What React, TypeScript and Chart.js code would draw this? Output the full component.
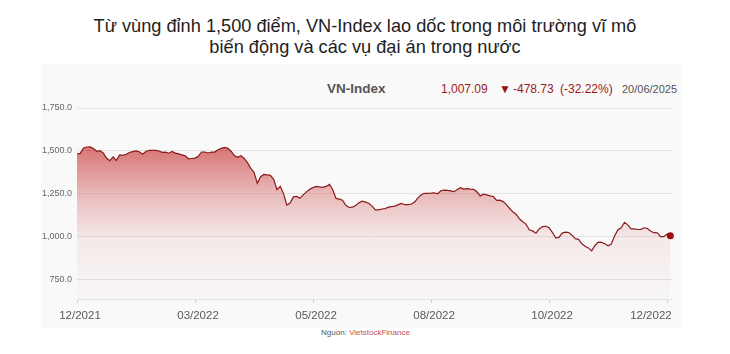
import React, { useEffect, useRef } from "react";
import { Chart, registerables } from "chart.js";

Chart.register(...registerables);

const titleLines = [
  "Từ vùng đỉnh 1,500 điểm, VN-Index lao dốc trong môi trường vĩ mô",
  "biến động và các vụ đại án trong nước",
];

const monthLabels = ["12/2021", "03/2022", "05/2022", "08/2022", "10/2022", "12/2022"];
const sessionsPerLabel = 36;

const yTicks = [750, 1000, 1250, 1500, 1750];

// VN-Index closes (approximate), Dec 2021 → Dec 2022
const vnIndex = [
  1482.6, 1486.0, 1517.4, 1523.3, 1523.8, 1514.5, 1498.3, 1501.7, 1489.0, 1459.3,
  1444.2, 1465.7, 1444.8, 1476.7, 1474.4, 1481.4, 1491.3, 1496.5, 1500.6, 1495.9,
  1480.8, 1497.1, 1504.1, 1503.5, 1504.1, 1500.0, 1491.9, 1493.0, 1487.2, 1497.7,
  1487.8, 1483.1, 1477.3, 1471.5, 1454.6, 1456.4, 1458.7, 1468.6, 1494.2, 1494.2,
  1488.4, 1494.2, 1493.6, 1507.6, 1515.1, 1520.9, 1515.1, 1498.8, 1473.8, 1463.4,
  1472.7, 1456.4, 1432.0, 1399.4, 1376.7, 1312.2, 1350.6, 1363.4, 1361.0, 1358.1,
  1334.9, 1275.6, 1294.8, 1252.3, 1186.0, 1197.1, 1233.1, 1236.0, 1225.0, 1244.8,
  1262.2, 1277.3, 1287.2, 1294.2, 1291.3, 1288.9, 1294.2, 1305.8, 1276.2, 1224.4,
  1219.8, 1213.9, 1184.3, 1171.5, 1173.3, 1183.1, 1199.4, 1208.7, 1202.9, 1196.5,
  1179.6, 1158.1, 1158.1, 1162.8, 1165.1, 1173.8, 1176.7, 1179.6, 1188.4, 1194.8,
  1187.8, 1187.8, 1191.9, 1203.5, 1227.9, 1245.3, 1254.1, 1254.1, 1255.2, 1257.0,
  1251.2, 1269.2, 1272.1, 1271.5, 1268.6, 1263.4, 1276.7, 1286.6, 1278.5, 1280.8,
  1277.9, 1277.3, 1262.8, 1238.9, 1248.8, 1244.8, 1239.5, 1235.5, 1213.4, 1214.5,
  1205.8, 1188.4, 1165.7, 1144.8, 1131.4, 1104.6, 1088.4, 1073.3, 1040.1, 1035.5,
  1022.1, 1046.5, 1060.5, 1062.2, 1053.5, 1027.3, 995.3, 997.7, 1022.7, 1028.5,
  1026.2, 1010.5, 990.1, 986.6, 960.5, 945.9, 936.6, 919.2, 950.6, 969.8,
  968.6, 960.5, 948.8, 959.3, 1006.4, 1041.9, 1054.0, 1085.5, 1070.3, 1047.1,
  1047.7, 1043.6, 1044.2, 1053.5, 1049.4, 1033.7, 1025.0, 1023.8, 1001.7, 1002.3,
  1017.4, 1007.09,
];

const headerName = "VN-Index";
const headerValue = "1,007.09";
const headerChange = "-478.73";
const headerPct = "(-32.22%)";
const headerDate = "20/06/2025";

const FONT = "'Liberation Sans', Arial, Helvetica, sans-serif";

export default function App() {
  const ref = useRef<HTMLCanvasElement | null>(null);

  useEffect(() => {
    if (!ref.current) return;
    const lastIdx = vnIndex.length - 1;
    const lastLabel = monthLabels.length - 1;
    const chart = new Chart(ref.current, {
      type: "line",
      data: {
        datasets: [
          {
            data: vnIndex.map((v, i) => ({ x: i, y: v })),
            borderColor: "#8a1a1a",
            borderWidth: 1.2,
            tension: 0,
            fill: "start",
            clip: 8,
            backgroundColor: (ctx: any) => {
              const ca = ctx.chart.chartArea;
              if (!ca) return "rgba(195,35,35,0.4)";
              const g = ctx.chart.ctx.createLinearGradient(0, ca.top, 0, ca.bottom);
              g.addColorStop(0, "rgba(195,35,35,0.66)");
              g.addColorStop(0.22, "rgba(195,35,35,0.6)");
              g.addColorStop(0.455, "rgba(195,35,35,0.29)");
              g.addColorStop(0.675, "rgba(195,35,35,0.08)");
              g.addColorStop(1, "rgba(195,35,35,0.01)");
              return g;
            },
            pointRadius: (ctx: any) => (ctx.dataIndex === lastIdx ? 3.5 : 0),
            pointBackgroundColor: "#9a1010",
            pointBorderColor: "#9a1010",
            pointBorderWidth: 0,
          },
        ],
      },
      options: {
        responsive: false,
        animation: false,
        devicePixelRatio: 1,
        layout: { padding: { left: 0, right: 10, top: 44, bottom: 0 } },
        plugins: { legend: { display: false }, tooltip: { enabled: false } },
        scales: {
          x: {
            type: "linear",
            min: 0,
            max: 181.5,
            afterBuildTicks: (scale: any) => {
              scale.ticks = monthLabels.map((_, i) => ({ value: i * sessionsPerLabel }));
            },
            afterFit: (scale: any) => {
              scale.height = 29;
              scale.paddingLeft = 0;
              scale.paddingRight = 0;
            },
            ticks: {
              autoSkip: false,
              maxRotation: 0,
              padding: 6,
              labelOffset: 3,
              color: "#5a5a5a",
              font: { family: FONT, size: 11.5 },
              callback: (v: any) => {
                const k = Math.round(Number(v) / sessionsPerLabel);
                const s = monthLabels[k] ?? "";
                // keep the last label inside the panel, as the original does
                return k === lastLabel ? s + "\u00a0".repeat(12) : s;
              },
            },
            grid: {
              drawOnChartArea: false,
              drawTicks: true,
              tickLength: 4,
              color: "#d0d0d0",
            },
            border: { display: true, color: "#e2e2e2" },
          },
          y: {
            min: 639.5,
            max: 1750,
            afterBuildTicks: (scale: any) => {
              scale.ticks = yTicks.map((v) => ({ value: v }));
            },
            afterFit: (scale: any) => {
              scale.width = 36;
              scale.paddingTop = 0;
              scale.paddingBottom = 0;
            },
            ticks: {
              padding: 5,
              color: "#666",
              font: { family: FONT, size: 9 },
              callback: (v: any) =>
                Number(v).toLocaleString("en-US", { minimumFractionDigits: 1, maximumFractionDigits: 1 }),
            },
            grid: { color: "#e4e4e4", drawTicks: false },
            border: { display: false },
          },
        },
      },
    });
    return () => chart.destroy();
  }, []);

  const abs = (left: number, top: number, extra: React.CSSProperties = {}): React.CSSProperties => ({
    position: "absolute",
    left,
    top,
    whiteSpace: "nowrap",
    fontFamily: FONT,
    ...extra,
  });

  return (
    <div
      style={{
        position: "fixed",
        left: 0,
        top: 0,
        width: 730,
        height: 354,
        background: "#ffffff",
        fontFamily: FONT,
        overflow: "hidden",
      }}
    >
      <div
        style={{
          position: "absolute",
          left: 0,
          top: 16,
          width: 730,
          textAlign: "center",
          fontSize: 18.2,
          lineHeight: "21px",
          color: "#1e1e1e",
        }}
      >
        {titleLines.map((t, i) => (
          <div key={i}>{t}</div>
        ))}
      </div>
      <div style={{ position: "absolute", left: 41, top: 64, width: 641, height: 264, background: "#f9f9f9" }} />
      <span style={abs(327, 81, { fontSize: 13.5, fontWeight: "bold", color: "#555" })}>{headerName}</span>
      <span style={abs(441, 82, { fontSize: 12, color: "#9a1a1a" })}>{headerValue}</span>
      <span style={abs(499, 82, { fontSize: 12, color: "#9a1010" })}>▼</span>
      <span style={abs(513, 82, { fontSize: 12, color: "#9a1a1a" })}>{headerChange}</span>
      <span style={abs(560, 82, { fontSize: 12, color: "#9a1a1a" })}>{headerPct}</span>
      <span style={abs(622, 83, { fontSize: 11, color: "#555" })}>{headerDate}</span>
      <canvas
        ref={ref}
        width={641}
        height={264}
        style={{ position: "absolute", left: 41, top: 64, width: 641, height: 264 }}
      />
      <div
        style={{
          position: "absolute",
          left: 45,
          top: 328,
          width: 641,
          textAlign: "center",
          fontSize: 8,
          lineHeight: "10px",
          color: "#555",
        }}
      >
        Nguồn: <span style={{ color: "#c0504d" }}>VietstockFinance</span>
      </div>
    </div>
  );
}
